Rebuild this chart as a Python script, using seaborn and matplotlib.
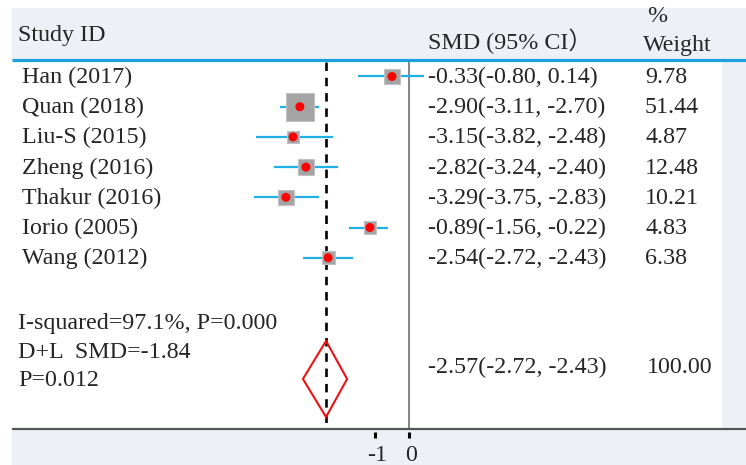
import matplotlib
matplotlib.use("Agg", force=True)
import matplotlib.pyplot as plt
import numpy as np
import seaborn as sns
from matplotlib.patches import Polygon, Rectangle

# study rows
studies = ["Han (2017)", "Quan (2018)", "Liu-S (2015)", "Zheng (2016)",
           "Thakur (2016)", "Iorio (2005)", "Wang (2012)"]
smd_text = ["-0.33(-0.80, 0.14)", "-2.90(-3.11, -2.70)", "-3.15(-3.82, -2.48)",
            "-2.82(-3.24, -2.40)", "-3.29(-3.75, -2.83)", "-0.89(-1.56, -0.22)",
            "-2.54(-2.72, -2.43)"]
weights = [9.78, 51.44, 4.87, 12.48, 10.21, 4.83, 6.38]

# marker positions as drawn on the axis
est = [-0.50, -3.21, -3.41, -3.03, -3.62, -1.15, -2.38]
ci_lo = [-1.50, -3.79, -4.50, -3.97, -4.56, -1.76, -3.12]
ci_hi = [0.44, -2.65, -2.24, -2.09, -2.65, -0.62, -1.65]

# pooled estimate
pooled_est, pooled_lo, pooled_hi = -2.44, -3.12, -1.82
pooled_text = "-2.57(-2.72, -2.43)"
pooled_weight = "100.00"
stats_lines = ["I-squared=97.1%, P=0.000", "D+L  SMD=-1.84", "P=0.012"]

xticks = [-1, 0]
xtick_labels = ["-1", "0"]

W, H = 746, 465
X0 = 409  # pixel of x=0
PPU = 34  # pixels per unit

BG = "#edf1f5"
SERIF = ["Liberation Serif", "Noto Sans CJK SC"]
FS = 17.3

sns.set_style("white")
plt.rcParams["font.family"] = SERIF

fig = plt.figure(figsize=(W / 100, H / 100), dpi=100)
fig.patch.set_facecolor("white")


def fx(px):
    return px / W


def fy(py):
    return 1 - py / H


# backgrounds
fig.patches.append(Rectangle((fx(12), 0), 1 - fx(12), fy(8), transform=fig.transFigure,
                             facecolor=BG, edgecolor="none", zorder=-2))
fig.patches.append(Rectangle((fx(12), fy(429)), fx(722 - 12), fy(60) - fy(429),
                             transform=fig.transFigure, facecolor="white", edgecolor="none", zorder=-1))

ax = fig.add_axes([0, 0, 1, 1])
ax.set_facecolor("none")
ax.set_xlim((0 - X0) / PPU, (W - X0) / PPU)
ax.set_ylim(H, 0)
ax.axis("off")


def dx(px):
    return (px - X0) / PPU


row_y = 76.5 + 30.2 * np.arange(len(studies))
diamond_y = 379

# header & axis lines
ax.plot([dx(12), dx(W)], [60, 60], color="#1ba1e2", lw=2.3, solid_capstyle="butt", zorder=3)
ax.plot([dx(12), dx(W)], [429, 429], color="#555555", lw=1.6, solid_capstyle="butt", zorder=3)
ax.plot([0, 0], [61, 429], color="#707070", lw=1.2, zorder=2)
ax.plot([pooled_est, pooled_est], [62, 429], color="black", lw=1.9,
        linestyle=(0, (3.2, 2.6)), zorder=2)

# CI lines
ax.hlines(row_y, ci_lo, ci_hi, color="#1fb0e6", lw=1.6, zorder=3)

# weight boxes
areas = [((5 + 3.2 * np.sqrt(w)) * 0.72) ** 2 for w in weights]
sns.scatterplot(x=est, y=row_y, size=studies, sizes=dict(zip(studies, areas)),
                marker="s", color="#a4a4a4", edgecolor="#c2c2c2", linewidth=0.8,
                legend=False, ax=ax, zorder=4)
sns.scatterplot(x=est, y=row_y, s=42, color="#ff0000", edgecolor="none",
                legend=False, ax=ax, zorder=5)

# pooled diamond
ax.add_patch(Polygon([(pooled_lo, diamond_y), (pooled_est, diamond_y - 38),
                      (pooled_hi, diamond_y), (pooled_est, diamond_y + 38)],
                     closed=True, fill=False, edgecolor="#ee1111", lw=1.5, zorder=4))

# ticks
for t, lab in zip(xticks, xtick_labels):
    ax.plot([t, t], [432, 438], color="black", lw=2.2, solid_capstyle="butt", zorder=3)
    ax.text(t + 0.05, 455, lab, ha="center", va="center", fontsize=FS)

# text columns
ax.text(dx(18), 35, "Study ID", ha="left", va="center", fontsize=FS)
ax.text(dx(428), 41, "SMD (95% CI）", ha="left", va="center", fontsize=FS)
ax.text(dx(647), 17, "%", ha="left", va="center", fontsize=FS)
ax.text(dx(643), 46, "Weight", ha="left", va="center", fontsize=FS)

for y, name, s, w in zip(row_y, studies, smd_text, weights):
    ax.text(dx(22), y + 1, name, ha="left", va="center", fontsize=FS)
    ax.text(dx(428), y + 1, s, ha="left", va="center", fontsize=FS)
    ax.text(dx(645), y + 1, f"{w:.2f}", ha="left", va="center", fontsize=FS)

for y, line in zip([323, 352, 380], stats_lines):
    ax.text(dx(18), y, line, ha="left", va="center", fontsize=FS)

ax.text(dx(428), 367, pooled_text, ha="left", va="center", fontsize=FS)
ax.text(dx(647), 367, pooled_weight, ha="left", va="center", fontsize=FS)

fig.savefig("out.png", dpi=100)
